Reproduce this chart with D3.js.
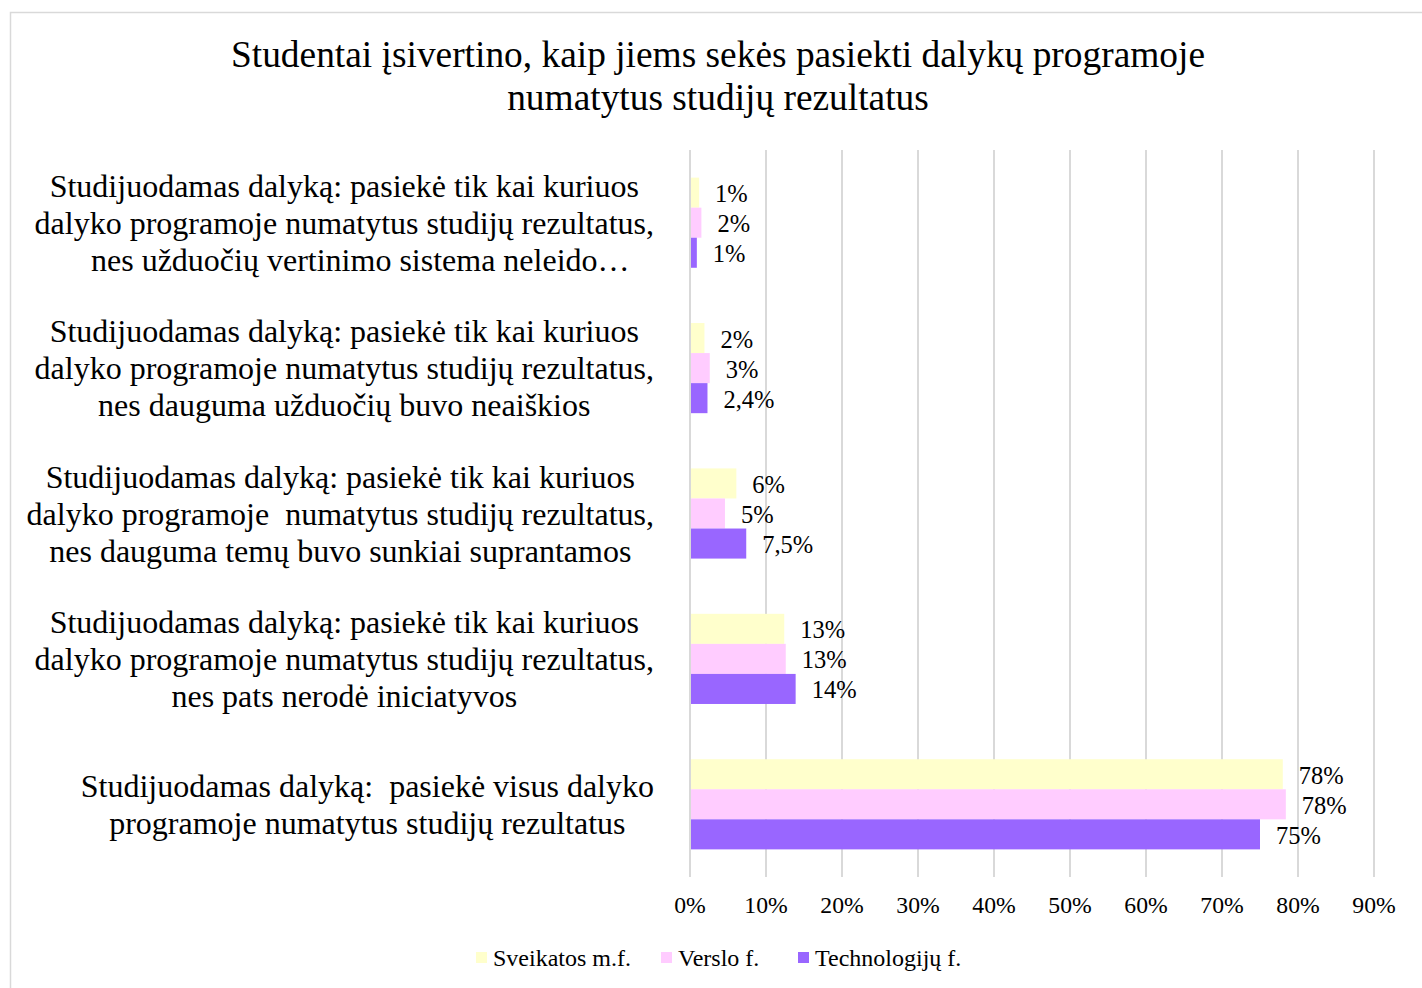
<!DOCTYPE html>
<html>
<head>
<meta charset="utf-8">
<script src="https://cdn.jsdelivr.net/npm/d3@7"></script>
<style>
  body { margin: 0; background: #fff; }
  text { font-family: "Liberation Serif", "Times New Roman", serif; fill: #000; white-space: pre; }
</style>
</head>
<body>
<svg id="chart" width="1422" height="988"></svg>
<script>
// Categories, top to bottom, each split into its wrapped lines
const categories = [
    ["Studijuodamas dalyką: pasiekė tik kai kuriuos", "dalyko programoje numatytus studijų rezultatus,", "    nes užduočių vertinimo sistema neleido…"],
    ["Studijuodamas dalyką: pasiekė tik kai kuriuos", "dalyko programoje numatytus studijų rezultatus,", "nes dauguma užduočių buvo neaiškios"],
    ["Studijuodamas dalyką: pasiekė tik kai kuriuos", "dalyko programoje  numatytus studijų rezultatus,", "nes dauguma temų buvo sunkiai suprantamos"],
    ["Studijuodamas dalyką: pasiekė tik kai kuriuos", "dalyko programoje numatytus studijų rezultatus,", "nes pats nerodė iniciatyvos"],
    ["Studijuodamas dalyką:  pasiekė visus dalyko", "programoje numatytus studijų rezultatus"]
];

const seriesNames = ["Sveikatos m.f.", "Verslo f.", "Technologijų f."];

// Bar lengths (percent), per series
const sveikatos = [1.2, 1.9, 6.1, 12.4, 78.0];
const verslo = [1.5, 2.6, 4.6, 12.6, 78.4];
const technologiju = [0.9, 2.3, 7.4, 13.9, 75.0];

// Data labels as printed on the chart
const sveikatosLabels = ["1%", "2%", "6%", "13%", "78%"];
const versloLabels = ["2%", "3%", "5%", "13%", "78%"];
const technologijuLabels = ["1%", "2,4%", "7,5%", "14%", "75%"];

const xTicks = [0, 10, 20, 30, 40, 50, 60, 70, 80, 90];

const titleLines = ["Studentai įsivertino, kaip jiems sekės pasiekti dalykų programoje", "numatytus studijų rezultatus"];

const colors = ["#FFFFCC", "#FFCCFF", "#9966FF"];

const seriesValues = [sveikatos, verslo, technologiju];
const seriesLabels = [sveikatosLabels, versloLabels, technologijuLabels];

const svg = d3.select("#chart");

// Outer chart frame
svg.append("rect")
    .attr("x", 10.5)
    .attr("y", 12.5)
    .attr("width", 1430)
    .attr("height", 1000)
    .attr("fill", "none")
    .attr("stroke", "#d9d9d9")
    .attr("stroke-width", 1.5);

// Title
svg.append("g").selectAll("text")
    .data(titleLines)
    .enter()
    .append("text")
    .attr("x", 718)
    .attr("y", (d, i) => 67 + i * 43)
    .attr("text-anchor", "middle")
    .style("font-size", "37.4px")
    .text(d => d);

// Scales
const xScale = d3.scaleLinear()
    .domain([0, 90])
    .range([690, 1374]);

const yScale = d3.scaleBand()
    .domain(d3.range(categories.length))
    .range([150, 877])
    .paddingInner(0.38)
    .paddingOuter(0.19);

const ySub = d3.scaleBand()
    .domain(d3.range(seriesNames.length))
    .range([0, yScale.bandwidth()]);

// Gridlines
svg.append("g").selectAll("line")
    .data(xTicks)
    .enter()
    .append("line")
    .attr("x1", d => xScale(d))
    .attr("x2", d => xScale(d))
    .attr("y1", 150)
    .attr("y2", 877)
    .attr("stroke", "#d9d9d9")
    .attr("stroke-width", 2);

// Bars and value labels
seriesValues.forEach((values, s) => {
    const g = svg.append("g");
    g.selectAll("rect")
        .data(values)
        .enter()
        .append("rect")
        .attr("x", xScale(0) + 1)
        .attr("y", (d, i) => yScale(i) + ySub(s))
        .attr("width", d => xScale(d) - xScale(0) - 1)
        .attr("height", ySub.bandwidth())
        .attr("fill", colors[s]);

    g.selectAll("text")
        .data(values)
        .enter()
        .append("text")
        .attr("x", d => xScale(d) + 16)
        .attr("y", (d, i) => yScale(i) + ySub(s) + ySub.bandwidth() / 2 + 9.5)
        .style("font-size", "24.5px")
        .text((d, i) => seriesLabels[s][i]);
});

// X axis tick labels
svg.append("g").selectAll("text")
    .data(xTicks)
    .enter()
    .append("text")
    .attr("x", d => xScale(d))
    .attr("y", 913)
    .attr("text-anchor", "middle")
    .style("font-size", "23.7px")
    .text(d => d + "%");

// Category labels: block right-aligned at 654, lines centred within block
const catFont = 32;
const lineH = 37;
categories.forEach((lines, i) => {
    const g = svg.append("g");
    const texts = g.selectAll("text")
        .data(lines)
        .enter()
        .append("text")
        .style("font-size", catFont + "px")
        .attr("text-anchor", "middle")
        .attr("y", (d, j) => yScale(i) + yScale.bandwidth() / 2 + (j - (lines.length - 1) / 2) * lineH + 11)
        .text(d => d);
    let maxW = 0;
    texts.each(function () { maxW = Math.max(maxW, this.getComputedTextLength()); });
    texts.attr("x", 654 - maxW / 2);
});

// Legend
const legendX = [476, 661, 798];
const legend = svg.append("g");
seriesNames.forEach((name, s) => {
    legend.append("rect")
        .attr("x", legendX[s])
        .attr("y", 952)
        .attr("width", 11)
        .attr("height", 11)
        .attr("fill", colors[s]);
    legend.append("text")
        .attr("x", legendX[s] + 17)
        .attr("y", 966)
        .style("font-size", "24px")
        .text(name);
});
</script>
</body>
</html>
